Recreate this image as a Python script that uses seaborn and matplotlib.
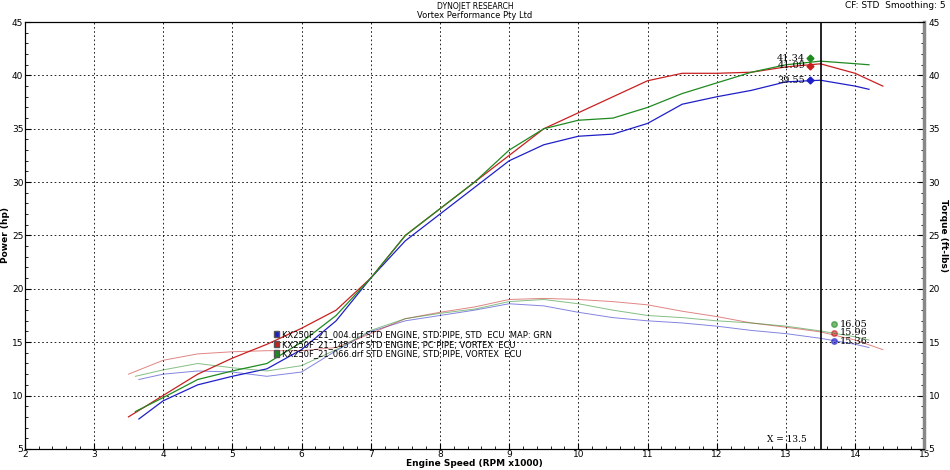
import matplotlib
matplotlib.use("Agg")
import matplotlib.pyplot as plt
import seaborn as sns
import pandas as pd
from matplotlib.ticker import MultipleLocator
from matplotlib.patches import Patch

rpm_b = [3.65,4,4.5,5,5.5,6,6.5,7,7.5,8,8.5,9,9.5,10,10.5,11,11.5,12,12.5,13,13.5,14,14.2]
hp_b = [7.8,9.5,11,11.8,12.5,14.3,17,21,24.5,27,29.5,32,33.5,34.3,34.5,35.5,37.3,38,38.6,39.4,39.55,39,38.7]
tq_b = [11.5,12,12.3,12.2,11.8,12.2,14.2,16,17,17.5,18,18.6,18.4,17.8,17.3,17,16.8,16.5,16.1,15.8,15.36,14.8,14.5]
rpm_r = [3.5,4,4.5,5,5.5,6,6.5,7,7.5,8,8.5,9,9.5,10,10.5,11,11.5,12,12.5,13,13.5,14,14.4]
hp_r = [8,10,12,13.5,14.8,16.3,18,21,25,27.5,30,32.5,35,36.5,38,39.5,40.2,40.2,40.3,40.8,41.09,40.2,39]
tq_r = [12,13.3,13.9,14.1,14.2,14.2,14.5,15.8,17.2,17.8,18.3,19,19.1,19,18.8,18.5,17.9,17.4,16.8,16.4,15.96,15.2,14.3]
rpm_g = [3.6,4,4.5,5,5.5,6,6.5,7,7.5,8,8.5,9,9.5,10,10.5,11,11.5,12,12.5,13,13.5,14,14.2]
hp_g = [8.5,9.8,11.5,12.3,13,15,17.5,21,25,27.5,30,33,35,35.8,36,37,38.3,39.3,40.3,41,41.34,41.1,41]
tq_g = [11.8,12.4,13,12.6,12.3,12.8,14.3,16.1,17.2,17.7,18.1,18.8,19,18.6,18,17.5,17.3,17,16.8,16.5,16.05,15.5,15.2]
labels = ["KX250F_21_004.drf STD ENGINE, STD PIPE, STD  ECU  MAP: GRN",
          "KX250F_21_145.drf STD ENGINE, PC PIPE, VORTEX  ECU",
          "KX250F_21_066.drf STD ENGINE, STD PIPE, VORTEX  ECU"]
colors = ["#1f1fc8", "#c82020", "#208a20"]
cursor_x = 13.5

fig = plt.figure(figsize=(9.5, 4.7), dpi=100)
ax = fig.add_axes([0.026, 0.045, 0.947, 0.908])
hp_lab_y = {0: 39.55, 1: 40.9, 2: 41.6}
tq_lab_y = {0: 15.1, 1: 15.9, 2: 16.7}
for k, (rpm, hp, tq, lab, c) in enumerate(zip([rpm_b, rpm_r, rpm_g], [hp_b, hp_r, hp_g], [tq_b, tq_r, tq_g], labels, colors)):
    df = pd.DataFrame({"rpm": rpm, "hp": hp, "tq": tq})
    sns.lineplot(data=df, x="rpm", y="hp", ax=ax, color=c, lw=0.9)
    sns.lineplot(data=df, x="rpm", y="tq", ax=ax, color=c, lw=0.7, alpha=0.55)
    i = rpm.index(cursor_x)
    ax.plot(13.35, hp_lab_y[k], 'D', color=c, ms=3.5)
    ax.text(13.28, hp_lab_y[k], f"{hp[i]:.2f}", ha="right", va="center", fontsize=7, family="DejaVu Serif")
    ax.plot(13.7, tq_lab_y[k], 'o', color=c, ms=4, alpha=0.6)
    ax.text(13.78, tq_lab_y[k], f"{tq[i]:.2f}", ha="left", va="center", fontsize=7, family="DejaVu Serif")

ax.axvline(cursor_x, color="black", lw=1.2)
ax.text(13.3, 5.6, "X = 13.5", ha="right", fontsize=6.5, family="DejaVu Serif")
ax.set_xlim(2, 15); ax.set_ylim(5, 45)
ax.xaxis.set_major_locator(MultipleLocator(1)); ax.xaxis.set_minor_locator(MultipleLocator(0.2))
ax.yaxis.set_major_locator(MultipleLocator(5)); ax.yaxis.set_minor_locator(MultipleLocator(1))
ax.grid(True, which="major", color="black", ls=(0, (2, 3)), lw=0.6)
ax.tick_params(labelsize=6.5, direction="in", length=4, pad=1)
ax.tick_params(which="minor", direction="in", length=2)
ax.set_xlabel("Engine Speed (RPM x1000)", fontsize=6.5, fontweight="bold", labelpad=0)
ax.set_ylabel("Power (hp)", fontsize=6.5, fontweight="bold", labelpad=1)
ax2 = ax.twinx()
ax2.set_ylim(5, 45)
ax2.yaxis.set_major_locator(MultipleLocator(5)); ax2.yaxis.set_minor_locator(MultipleLocator(1))
ax2.tick_params(labelsize=6.5, direction="in", length=4, pad=3)
ax2.tick_params(which="minor", direction="in", length=2)
ax2.set_ylabel("Torque (ft-lbs)", fontsize=6.5, fontweight="bold", rotation=270, labelpad=6)
for a in (ax, ax2):
    for s in a.spines.values():
        s.set_linewidth(0.8)
ax2.spines["right"].set_linewidth(2.5); ax2.spines["right"].set_color("#888888")
handles = [Patch(facecolor=c, edgecolor="#555555") for c in colors]
ax.legend(handles, labels, loc="lower left", bbox_to_anchor=(0.272, 0.2), fontsize=6, frameon=False,
          handlelength=0.6, handleheight=0.8, borderpad=0.1, labelspacing=0.1, handletextpad=0.3)
fig.text(0.5, 0.995, "DYNOJET RESEARCH", ha="center", va="top", fontsize=5.5)
fig.text(0.5, 0.976, "Vortex Performance Pty Ltd", ha="center", va="top", fontsize=6)
fig.text(0.995, 0.997, "CF: STD  Smoothing: 5", ha="right", va="top", fontsize=6.5)
fig.savefig("out.png", dpi=100)
